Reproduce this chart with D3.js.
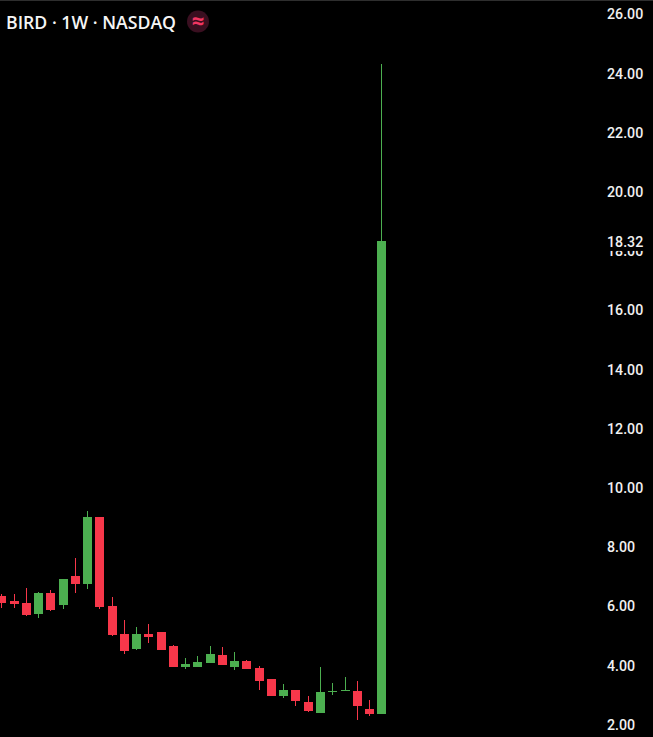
<!DOCTYPE html>
<html>
<head>
<meta charset="utf-8">
<script src="https://cdn.jsdelivr.net/npm/d3@7"></script>
<style>
	html, body { margin: 0; padding: 0; background: #000; overflow: hidden; }
	text { font-family: 'Open Sans', sans-serif; }
</style>
</head>
<body>
<div id="chart"></div>
<script>
const title = 'BIRD · 1W · NASDAQ';
const lastPrice = 18.32;
const yTicks = [2, 4, 6, 8, 10, 12, 14, 16, 18, 20, 22, 24, 26];

// weekly candles, oldest first
const opens = [6.32, 6.16, 6.09, 5.72, 6.43, 6.02, 7.00, 6.73, 8.99, 5.99, 5.04, 4.53, 5.04, 5.11, 4.63, 3.93,
	3.93, 4.06, 4.33, 3.93, 4.13, 3.89, 3.52, 2.95, 3.15, 2.74, 2.37, 3.08, 3.11, 3.11, 2.51, 2.34];
const highs = [6.39, 6.39, 6.59, 6.46, 6.53, 6.90, 7.61, 9.20, 8.99, 6.29, 5.51, 5.28, 5.38, 5.11, 4.67, 4.23,
	4.30, 4.63, 4.60, 4.43, 4.16, 3.96, 3.52, 3.35, 3.15, 2.95, 3.93, 3.38, 3.59, 3.45, 2.81, 24.30];
const lows = [5.92, 5.92, 5.65, 5.58, 5.82, 5.88, 6.43, 6.56, 5.88, 4.97, 4.36, 4.50, 4.74, 4.50, 3.93, 3.86,
	3.93, 4.06, 3.99, 3.82, 3.86, 3.15, 2.95, 2.88, 2.61, 2.41, 2.37, 2.98, 3.11, 2.14, 2.27, 2.34];
const closes = [6.09, 6.05, 5.68, 6.43, 5.85, 6.90, 6.73, 8.99, 5.95, 5.01, 4.47, 5.04, 4.94, 4.50, 3.93, 4.03,
	4.09, 4.36, 3.99, 4.13, 3.86, 3.45, 2.95, 3.15, 2.78, 2.44, 3.08, 3.11, 3.15, 2.61, 2.34, 18.32];

const width = 653;
const height = 737;
const up = '#4caf50';
const down = '#f7374a';

const svg = d3.select('#chart')
	.append('svg')
	.attr('width', width)
	.attr('height', height)
	.style('display', 'block')
	.style('background', '#000');

svg.append('line')
	.attr('x1', 0).attr('x2', width)
	.attr('y1', 0.5).attr('y2', 0.5)
	.attr('stroke', '#2e2e2e');

const xScale = d3.scaleLinear()
	.domain([0, opens.length - 1])
	.range([1.3, 381.3]);

const yScale = d3.scaleLinear()
	.domain([2, 26])
	.range([724, 13.6]);

const yAxis = d3.axisRight(yScale)
	.tickValues(yTicks)
	.tickSize(0)
	.tickPadding(0)
	.tickFormat(d3.format('.2f'));

const yAxisG = svg.append('g')
	.attr('transform', 'translate(607, 0.7)')
	.call(yAxis);
yAxisG.select('.domain').remove();
yAxisG.selectAll('text')
	.attr('fill', '#f0f0f0')
	.style('font-family', "'Roboto', sans-serif")
	.style('font-size', '14.2px')
	.style('font-weight', 500);

const candles = svg.append('g')
	.selectAll('g')
	.data(opens)
	.join('g')
	.attr('fill', (d, i) => closes[i] >= opens[i] ? up : down);

candles.append('rect')
	.attr('x', (d, i) => Math.round(xScale(i)))
	.attr('width', 1)
	.attr('y', (d, i) => Math.round(yScale(highs[i])))
	.attr('height', (d, i) => Math.max(1, Math.round(yScale(lows[i])) - Math.round(yScale(highs[i]))));

candles.append('rect')
	.attr('x', (d, i) => Math.round(xScale(i)) - 4)
	.attr('width', 9)
	.attr('y', (d, i) => Math.round(yScale(Math.max(opens[i], closes[i]))))
	.attr('height', (d, i) => Math.max(1, Math.round(yScale(Math.min(opens[i], closes[i]))) - Math.round(yScale(Math.max(opens[i], closes[i])))));

// last price label sits over the 18.00 tick
const lastG = svg.append('g');
lastG.append('rect')
	.attr('x', 600)
	.attr('width', 53)
	.attr('y', yScale(lastPrice) - 8)
	.attr('height', 18)
	.attr('fill', '#000');
lastG.append('text')
	.attr('x', 607)
	.attr('y', yScale(lastPrice) + 1.2)
	.attr('dy', '0.32em')
	.attr('fill', '#f0f0f0')
	.style('font-family', "'Roboto', sans-serif")
	.style('font-size', '14.2px')
	.style('font-weight', 500)
	.text(d3.format('.2f')(lastPrice));

svg.append('text')
	.attr('x', 6)
	.attr('y', 29)
	.attr('fill', '#f5f5f5')
	.style('font-size', '18px')
	.style('font-weight', 600)
	.attr('textLength', 170)
	.attr('lengthAdjust', 'spacingAndGlyphs')
	.text(title);

svg.append('circle')
	.attr('cx', 198)
	.attr('cy', 21.5)
	.attr('r', 11)
	.attr('fill', '#3a0f20');

svg.append('text')
	.attr('x', 198)
	.attr('y', 21.5)
	.attr('dy', '0.36em')
	.attr('text-anchor', 'middle')
	.attr('fill', '#f23662')
	.style('font-size', '22px')
	.style('font-weight', 700)
	.text('≈');
</script>
</body>
</html>
